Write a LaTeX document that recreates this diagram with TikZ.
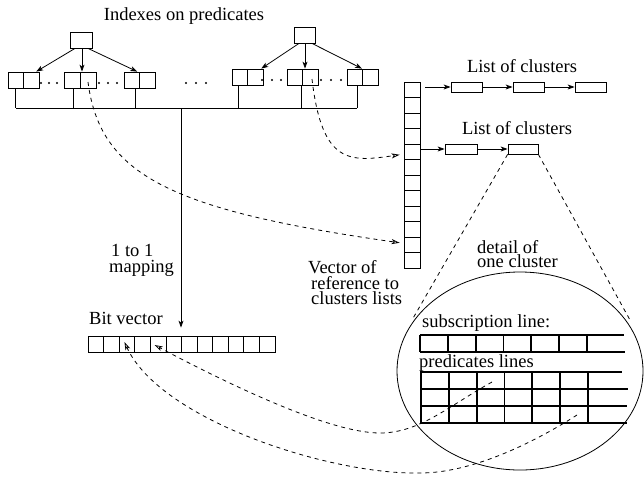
\documentclass[tikz,border=0pt]{standalone}
\usepackage{fontspec}
\setmainfont{Liberation Serif}
\usetikzlibrary{arrows.meta,shapes.geometric,calc}
\begin{document}
\begin{tikzpicture}[x=1pt,y=-1pt,
  every node/.style={font=\fontsize{18.5}{16}\selectfont},
  thin line/.style={line width=0.8pt},
  box/.style={draw, line width=0.8pt, inner sep=0pt, minimum width=15.5pt, minimum height=16pt},
  rootbox/.style={box, minimum width=22pt},
  vcell/.style={draw, line width=0.8pt, inner sep=0pt, minimum width=16pt, minimum height=15.5pt},
  bcell/.style={draw, line width=0.8pt, inner sep=0pt, minimum width=15.58pt, minimum height=16pt},
  lbox/.style={draw, line width=0.8pt, inner sep=0pt, minimum width=31pt, minimum height=10pt},
  arr/.style={line width=0.8pt, -{Stealth[length=7pt,width=5pt,inset=2pt]}},
  dsh/.style={line width=0.8pt, dash pattern=on 4pt off 4pt},
  darr/.style={dsh, -{Stealth[open,length=8pt,width=5pt,inset=2pt]}},
  gridline/.style={line width=1.8pt},
  lbl/.style={inner sep=0pt, align=left, anchor=north west},
]
\useasboundingbox (0,0) rectangle (644,480);

% title
\node[inner sep=0pt, anchor=base] (title) at (184,20) {Indexes on predicates};

% tree 1
\node[rootbox] (r1) at (81,40) {};
\node[box] (t1a) at (15.75,80) {};
\node[box] (t1b) at (31.25,80) {};
\node[box, minimum width=16pt] (t1c) at (72,80) {};
\node[box, minimum width=16pt] (t1d) at (88,80) {};
\node[box] (t1e) at (131.75,80) {};
\node[box] (t1f) at (147.25,80) {};
\draw[arr] ([xshift=-6pt]r1.south) -- ([xshift=5pt]t1b.north);
\draw[arr] ([xshift=1pt]r1.south) -- ([xshift=-6pt]t1d.north);
\draw[arr] ([xshift=7pt]r1.south) -- ([xshift=5.5pt]t1e.north);

% tree 2
\node[rootbox, minimum width=21pt] (r2) at (304.5,35) {};
\node[box] (t2a) at (239.75,77) {};
\node[box] (t2b) at (255.25,77) {};
\node[box] (t2c) at (295,77) {};
\node[box] (t2d) at (310.5,77) {};
\node[box] (t2e) at (355,77) {};
\node[box] (t2f) at (370.5,77) {};
\draw[arr] ([xshift=-5.5pt]r2.south) -- ([xshift=6pt]t2b.north);
\draw[arr] ([xshift=0.5pt]r2.south) -- ([xshift=-5.5pt]t2d.north);
\draw[arr] ([xshift=7.5pt]r2.south) -- ([xshift=7pt]t2e.north);

% dots
\foreach \x/\y in {41/83,49/83,57/83,99/83,108/83,117/83,186/83,196/83,206/83,
                   262/80,272/80,281/80,321/80,331/80,341/80}
  \fill (\x,\y) circle (1.2pt);

% bus
\coordinate (busL) at (16,108);
\coordinate (busR) at (357,108);
\coordinate (busM) at (181,108);
\draw[thin line] (t1a.south) -- ++(0,20);
\draw[thin line] ([xshift=1pt]t1c.south) -- ++(0,20);
\draw[thin line] ([xshift=3.5pt]t1e.south) -- ++(0,20);
\draw[thin line] ([xshift=-1.5pt]t2a.south) -- ++(0,23);
\draw[thin line] ([xshift=6pt]t2c.south) -- ++(0,23);
\draw[thin line] ([xshift=2pt]t2e.south) -- ++(0,23);
\draw[thin line] (busL) -- (busR);

% vector of references
\foreach \i in {1,...,12}
  \node[vcell] (v\i) at (412,{82+15.5*(\i-0.5)}) {};

% bit vector
\foreach \i in {1,...,12}
  \node[bcell] (bv\i) at ({88+15.58*(\i-0.5)},344) {};
\draw[arr, shorten >=8pt] (busM) -- (busM |- bv7.north);

% lists
\node[inner sep=0pt, anchor=base] (lt1) at (522,72) {List of clusters};
\node[lbox] (l1a) at (466.5,87) {};
\node[lbox] (l1b) at (528.5,87) {};
\node[lbox] (l1c) at (590.5,87) {};
\coordinate (l1s) at (425,87);
\draw[arr] (l1s) -- (l1a);
\draw[arr] (l1a) -- (l1b);
\draw[arr] (l1b) -- (l1c);

\node[inner sep=0pt, anchor=base] (lt2) at (517,134) {List of clusters};
\node[lbox, minimum width=32pt] (l2a) at (461,149) {};
\node[lbox, minimum width=30pt] (l2b) at (523,149) {};
\draw[arr] (v5.east |- l2a.west) -- (l2a.west);
\draw[arr] (l2a) -- (l2b);

% labels
\node[lbl, font=\fontsize{18.5}{16}\selectfont] (map) at (109,244.5) {\hspace{2pt}1 to 1\\mapping};
\node[lbl, font=\fontsize{18.5}{15.5}\selectfont] (vref) at (308,260.4) {Vector of\\\hspace{3pt}reference to\\\hspace{3pt}clusters lists};
\node[lbl, font=\fontsize{18.5}{14}\selectfont] (det) at (477,240.4) {detail of\\one cluster};
\node[inner sep=0pt, anchor=base west] (bvl) at (89,324) {Bit vector};

% cluster detail
\node[draw, ellipse, line width=0.8pt, inner sep=0pt, minimum width=246pt, minimum height=198pt] (clus) at (520,371) {};
\coordinate (cl) at (412,320);
\coordinate (cr) at (630,320);
\draw[dsh] (l2b.south west) -- (cl);
\draw[dsh] (l2b.south east) -- (cr);

\node[inner sep=0pt, anchor=base west] (subl) at (422,327) {subscription line:};
\node[inner sep=0pt, anchor=base west] (predl) at (419,367) {predicates lines};

\foreach \k in {0,...,6}
  \draw[gridline] ({420+27.8*\k},335) -- ({420+27.8*\k},352);
\draw[gridline] (420,335) -- (624,335) (420,352) -- (625,352);
\foreach \k in {0,...,6}
  \draw[gridline] ({421+27.8*\k},372) -- ({421+27.8*\k},423);
\foreach \y/\e in {372/622,389/628,406/627,423/627}
  \draw[gridline] (420,\y) -- (\e,\y);

% dashed references
\draw[darr] ([yshift=-2pt]t1d.center) .. controls (100,175) and (170,210) .. ([xshift=-4pt,yshift=2pt]v11.west);
\draw[darr] ([xshift=1.5pt,yshift=-2pt]t2d.center) .. controls (322,165) and (350,162) .. ([xshift=-4pt,yshift=-3pt]v5.west);

\coordinate (ga) at (492,382);
\coordinate (gb) at (577,415);
\coordinate (ma) at (380,433);
\coordinate (mb) at (420,473);
\draw[darr] (ga) .. controls (450,405) and (420,433) .. (ma)
  .. controls (330,433) and (230,385) .. ([xshift=-3.5pt,yshift=-1pt]bv5.center);
\draw[darr] (gb) .. controls (530,445) and (470,473) .. (mb)
  .. controls (330,475) and (160,420) .. ([xshift=-2.5pt,yshift=2pt]bv3.center);
\end{tikzpicture}
\end{document}
